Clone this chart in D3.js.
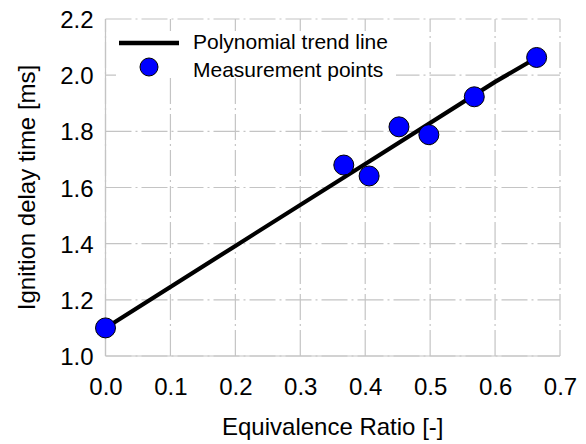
<!DOCTYPE html>
<html><head><meta charset="utf-8">
<script src="https://cdn.jsdelivr.net/npm/d3@7"></script>
<style>
html,body{margin:0;padding:0;background:#fff;}
text{font-family:"Liberation Sans",Arial,sans-serif;fill:#000;}
</style></head>
<body><svg id="c" width="586" height="444"></svg>
<script>
const xTicks = [0.0,0.1,0.2,0.3,0.4,0.5,0.6,0.7];
const yTicks = [1.0,1.2,1.4,1.6,1.8,2.0,2.2];
const measX = [0.0,0.367,0.406,0.452,0.498,0.568,0.664];
const measY = [1.10,1.680,1.641,1.816,1.788,1.923,2.063];
const trendX = [0.0,0.2,0.4,0.6,0.664];
const trendY = [1.10,1.392,1.684,1.976,2.062];
const legendLabels = ["Polynomial trend line","Measurement points"];
const xTitle = "Equivalence Ratio [-]";
const yTitle = "Ignition delay time [ms]";

const L=105.5, R=560, T=19, B=356;
const svg=d3.select("#c");
const x=d3.scaleLinear().domain([0,0.7]).range([L,R]);
const y=d3.scaleLinear().domain([1.0,2.2]).range([B,T]);
const gridCol="#c4c4c4", dash="26,4,2,4";

const g=svg.append("g");
// grid lines
g.selectAll(".vg").data(xTicks).enter().append("line")
  .attr("x1",d=>x(d)).attr("x2",d=>x(d)).attr("y1",B).attr("y2",T)
  .attr("stroke",gridCol).attr("stroke-width",1.2).attr("stroke-dasharray",dash);
g.selectAll(".hg").data(yTicks).enter().append("line")
  .attr("x1",L).attr("x2",R).attr("y1",d=>y(d)).attr("y2",d=>y(d))
  .attr("stroke",gridCol).attr("stroke-width",1.2).attr("stroke-dasharray",dash);
// solid left & bottom frame
g.append("line").attr("x1",L).attr("x2",L).attr("y1",T).attr("y2",B).attr("stroke",gridCol).attr("stroke-width",1.2);
g.append("line").attr("x1",L).attr("x2",R).attr("y1",B).attr("y2",B).attr("stroke",gridCol).attr("stroke-width",1.2);

// axes (labels only)
const xAxis=d3.axisBottom(x).tickValues(xTicks).tickFormat(d3.format(".1f")).tickSize(0).tickPadding(0);
const xa=svg.append("g").attr("transform",`translate(0,${B})`).call(xAxis);
xa.select(".domain").remove();
xa.selectAll("text").attr("font-size",24).attr("dy",null).attr("y",39)
  .style("font-family",'"Liberation Sans",Arial,sans-serif');
const yAxis=d3.axisLeft(y).tickValues(yTicks).tickFormat(d3.format(".1f")).tickSize(0).tickPadding(12);
const ya=svg.append("g").attr("transform",`translate(${L},0)`).call(yAxis);
ya.select(".domain").remove();
ya.selectAll("text").attr("font-size",24).attr("dy","0.36em")
  .style("font-family",'"Liberation Sans",Arial,sans-serif');

// legend background
svg.append("rect").attr("x",116).attr("y",31).attr("width",280).attr("height",47).attr("fill","#fff");

// trend line
const line=d3.line().x(d=>x(d[0])).y(d=>y(d[1]));
svg.append("path").datum(trendX.map((v,i)=>[v,trendY[i]])).attr("d",line)
  .attr("fill","none").attr("stroke","#000").attr("stroke-width",4.2);

// points
svg.selectAll(".pt").data(measX.map((v,i)=>[v,measY[i]])).enter().append("circle")
  .attr("cx",d=>x(d[0])).attr("cy",d=>y(d[1])).attr("r",10)
  .attr("fill","#0000ff").attr("stroke","#000").attr("stroke-width",1);

// legend
svg.append("line").attr("x1",119).attr("x2",179).attr("y1",43).attr("y2",43).attr("stroke","#000").attr("stroke-width",4.5);
svg.append("circle").attr("cx",149).attr("cy",67).attr("r",9).attr("fill","#0000ff").attr("stroke","#000").attr("stroke-width",1);
svg.selectAll(".lt").data(legendLabels).enter().append("text")
  .attr("x",193).attr("y",(d,i)=>48.5+i*28).attr("font-size",21).text(d=>d);

// titles
svg.append("text").attr("x",(L+R)/2).attr("y",435).attr("text-anchor","middle").attr("font-size",24).text(xTitle);
svg.append("text").attr("transform",`translate(35,${(T+B)/2}) rotate(-90)`).attr("text-anchor","middle").attr("font-size",24).text(yTitle);
</script></body></html>
